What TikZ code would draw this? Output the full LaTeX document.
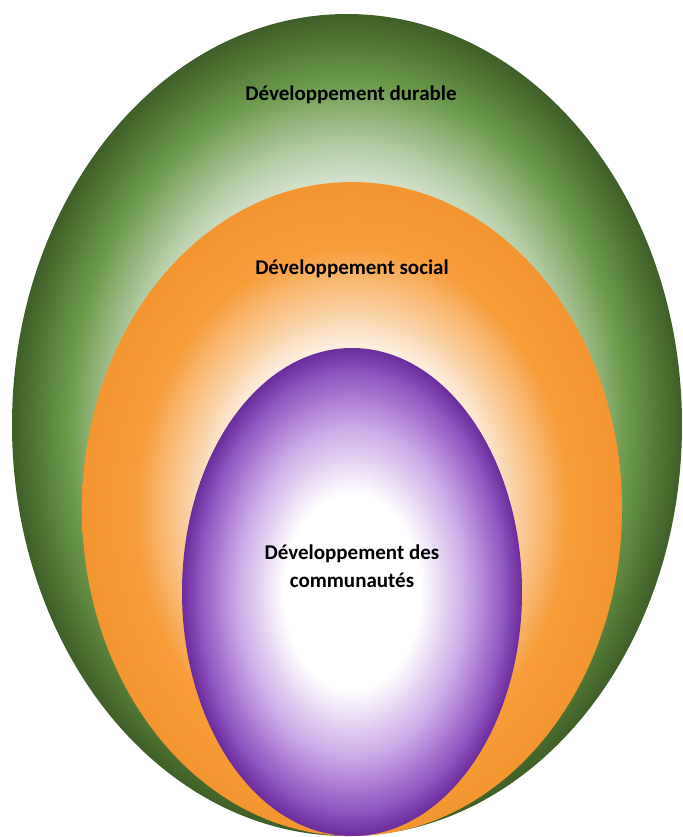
\documentclass[tikz,border=0pt]{standalone}
\usepackage{fontspec}
\setmainfont{Carlito}
\definecolor{gdark}{HTML}{3E5F27}
\definecolor{gmid}{HTML}{6A9849}
\definecolor{gpale}{HTML}{B3CCA5}
\definecolor{odark}{HTML}{F4952F}
\definecolor{omid}{HTML}{F89D3A}
\definecolor{opale}{HTML}{F9D3A8}
\definecolor{pdark}{HTML}{6B2C9C}
\definecolor{pmid}{HTML}{8F55C0}
\definecolor{ppale}{HTML}{CBA8E6}
\pgfdeclareradialshading{greenshade}{\pgfpoint{0bp}{0bp}}{color(0bp)=(white); color(12bp)=(white); color(17bp)=(gpale); color(21bp)=(gmid); color(25bp)=(gdark); color(50bp)=(gdark)}
\pgfdeclareradialshading{orangeshade}{\pgfpoint{0bp}{0bp}}{color(0bp)=(white); color(11bp)=(white); color(15bp)=(opale); color(20bp)=(omid); color(25bp)=(odark); color(50bp)=(odark)}
\pgfdeclareradialshading{purpleshade}{\pgfpoint{0bp}{0bp}}{color(0bp)=(white); color(10bp)=(white); color(17bp)=(ppale); color(22.5bp)=(pmid); color(25bp)=(pdark); color(50bp)=(pdark)}
\tikzset{
    label text/.style={font=\bfseries\fontsize{21}{28}\selectfont, align=center, text=black}
}
\begin{document}
\begin{tikzpicture}[x=1pt, y=-1pt]
    \useasboundingbox (0,0) rectangle (682,837);
    \begin{scope}
        \clip (0,0) rectangle (682,837);
        % outer
        \shade[shading=greenshade] (347,425) ellipse [x radius=335, y radius=411];
        % middle
        \shade[shading=orangeshade] (352,509) ellipse [x radius=270, y radius=327];
        % inner
        \shade[shading=purpleshade] (352,592) ellipse [x radius=170, y radius=244];
    \end{scope}

    \begin{scope}[every node/.style={label text}]
        \node (durable) at (351,95) {Développement durable};
        \node (social) at (352,269) {Développement social};
        \node (communautes) at (352,566) {Développement des\\communautés};
    \end{scope}
\end{tikzpicture}
\end{document}
